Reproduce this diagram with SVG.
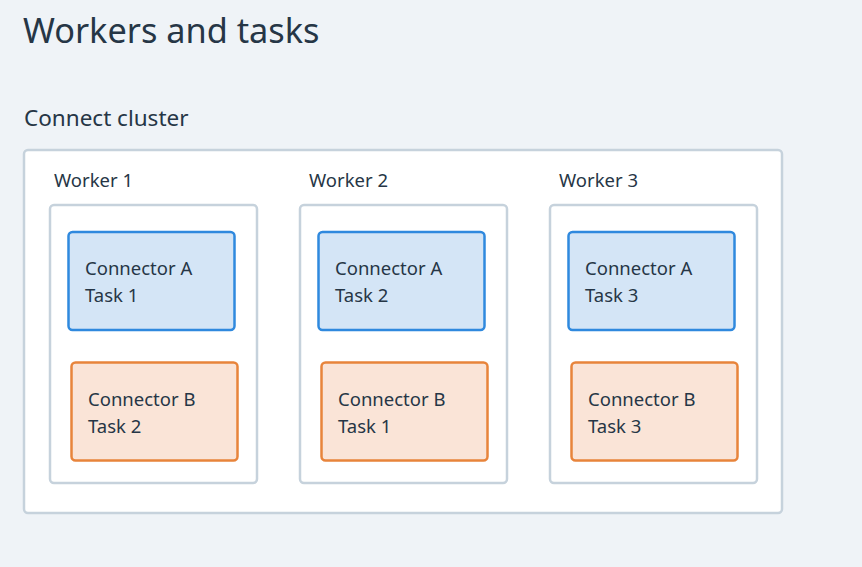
<svg xmlns="http://www.w3.org/2000/svg" width="862" height="567" viewBox="0 0 862 567">
<style>
text{font-family:"Noto Sans","DejaVu Sans",sans-serif;fill:#263646}
.title{font-size:34.3px}
.sub{font-size:22.5px}
.lbl{font-size:18.5px}
.cluster{fill:#ffffff;stroke:#c6d2dc;stroke-width:2.5}
.worker{fill:#ffffff;stroke:#c6d2dc;stroke-width:2.5}
.a{fill:#d4e5f6;stroke:#2f89de;stroke-width:2.5}
.b{fill:#fae4d7;stroke:#e8843b;stroke-width:2.5}
</style>
<rect width="862" height="567" fill="#eff3f7"/>
<text class="title" x="23" y="43">Workers and tasks</text>
<text class="sub" x="24" y="126">Connect cluster</text>
<g id="cluster">
<rect class="cluster" x="24" y="150" width="758" height="363" rx="4"/>
</g>
<g id="worker1">
<text class="lbl" x="54" y="187">Worker 1</text>
<rect class="worker" x="50" y="205" width="207" height="278" rx="4"/>
</g>
<g id="worker2">
<text class="lbl" x="309" y="187">Worker 2</text>
<rect class="worker" x="300" y="205" width="207" height="278" rx="4"/>
</g>
<g id="worker3">
<text class="lbl" x="559" y="187">Worker 3</text>
<rect class="worker" x="550" y="205" width="207" height="278" rx="4"/>
</g>
<g id="w1a">
<rect class="a" x="68.5" y="232" width="166" height="98" rx="4"/>
<text class="lbl" x="85" y="275">Connector A</text>
<text class="lbl" x="85" y="301.5">Task 1</text>
</g>
<g id="w1b">
<rect class="b" x="71.5" y="362.5" width="166" height="98" rx="4"/>
<text class="lbl" x="88" y="406">Connector B</text>
<text class="lbl" x="88" y="432.5">Task 2</text>
</g>
<g id="w2a">
<rect class="a" x="318.5" y="232" width="166" height="98" rx="4"/>
<text class="lbl" x="335" y="275">Connector A</text>
<text class="lbl" x="335" y="301.5">Task 2</text>
</g>
<g id="w2b">
<rect class="b" x="321.5" y="362.5" width="166" height="98" rx="4"/>
<text class="lbl" x="338" y="406">Connector B</text>
<text class="lbl" x="338" y="432.5">Task 1</text>
</g>
<g id="w3a">
<rect class="a" x="568.5" y="232" width="166" height="98" rx="4"/>
<text class="lbl" x="585" y="275">Connector A</text>
<text class="lbl" x="585" y="301.5">Task 3</text>
</g>
<g id="w3b">
<rect class="b" x="571.5" y="362.5" width="166" height="98" rx="4"/>
<text class="lbl" x="588" y="406">Connector B</text>
<text class="lbl" x="588" y="432.5">Task 3</text>
</g>
<g id="connectors"></g>
</svg>
